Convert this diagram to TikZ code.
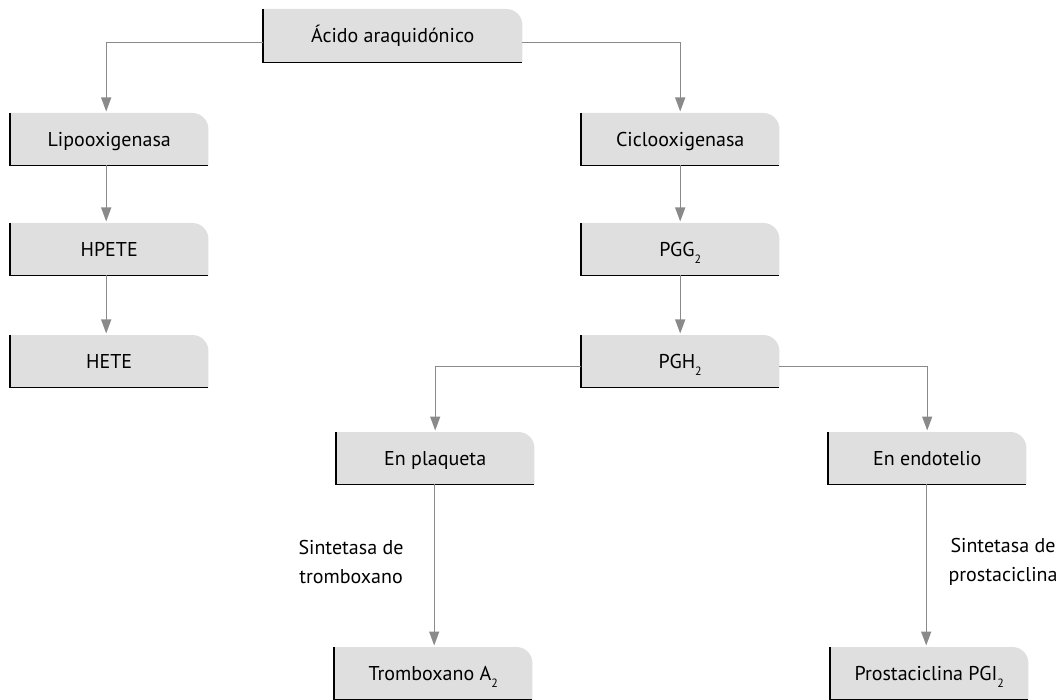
\documentclass[tikz,border=0pt]{standalone}
\usepackage{fontspec}
\setmainfont{PT Sans}
\usetikzlibrary{arrows.meta,backgrounds}
\definecolor{boxfill}{HTML}{DFDFDF}
\definecolor{linkgray}{HTML}{8A8A8A}
% low, small subscript digit
\newcommand{\lowsub}[1]{\raisebox{-7pt}{\fontsize{12}{12}\selectfont #1}}
\begin{document}
\begin{tikzpicture}[x=1pt,y=-1pt,
  flowbox/.style={anchor=north west,inner sep=0pt,minimum width=198pt,minimum height=52pt,
    text height=14pt,text depth=0pt,font=\fontsize{20}{24}\selectfont},
  link/.style={draw=linkgray,line width=1.3pt,-{Triangle[width=10pt,length=14pt]},shorten >=1.5pt},
  note/.style={align=center,inner sep=0pt,font=\fontsize{20}{29}\selectfont}]
\useasboundingbox (0,0) rectangle (1062,700);

% boxes
\node[flowbox,minimum width=259pt,minimum height=53pt] (A) at (263,9) {Ácido araquidónico};
\node[flowbox] (L)  at (10,113)  {Lipooxigenasa};
\node[flowbox] (HP) at (10,223)  {HPETE};
\node[flowbox] (HE) at (10,335)  {HETE};
\node[flowbox] (C)  at (581,113) {Ciclooxigenasa};
\node[flowbox] (G)  at (581,223) {PGG\lowsub{2}};
\node[flowbox] (H)  at (581,335) {PGH\lowsub{2}};
\node[flowbox] (P)  at (336,432) {En plaqueta};
\node[flowbox] (E)  at (828,432) {En endotelio};
\node[flowbox] (T)  at (334,647) {Tromboxano A\lowsub{2}};
\node[flowbox] (PR) at (830,647) {Prostaciclina PGI\lowsub{2}};

% box backgrounds: grey fill, rounded upper right corner, black left and bottom edges
\begin{scope}[on background layer]
\foreach \n in {A,L,HP,HE,C,G,H,P,E,T,PR}{
  \fill[boxfill] (\n.south west) -- (\n.north west) -- ([xshift=-16pt]\n.north east)
    arc[start angle=90,end angle=0,radius=16pt] -- (\n.south east) -- cycle;
  \draw[black,line width=1.2pt] (\n.north west) -- (\n.south west) -- (\n.south east);
}
\end{scope}

% connectors
\draw[link] ([yshift=-6.5pt]A.west) -| ([xshift=-3pt]L.north);
\draw[link] ([yshift=-6.5pt]A.east) -| (C.north);
\draw[link] ([xshift=-3pt]L.south) -- ([xshift=-3pt]HP.north);
\draw[link] ([xshift=-3pt]HP.south) -- ([xshift=-3pt]HE.north);
\draw[link] (C.south) -- (G.north);
\draw[link] (G.south) -- (H.north);
\draw[link] ([yshift=-5pt]H.west) -| (P.north);
\draw[link] ([yshift=-5pt]H.east) -| (E.north);
\draw[link] ([xshift=-1pt]P.south) -- ([xshift=-1pt]P.south |- T.north);
\draw[link] ([xshift=-1pt]E.south) -- ([xshift=-1pt]E.south |- PR.north);

% enzyme labels
\node[note] (st) at (351,562) {Sintetasa de\\tromboxano};
\node[note] (sp) at (1003,562) {Sintetasa de\\prostaciclina};
\end{tikzpicture}
\end{document}
